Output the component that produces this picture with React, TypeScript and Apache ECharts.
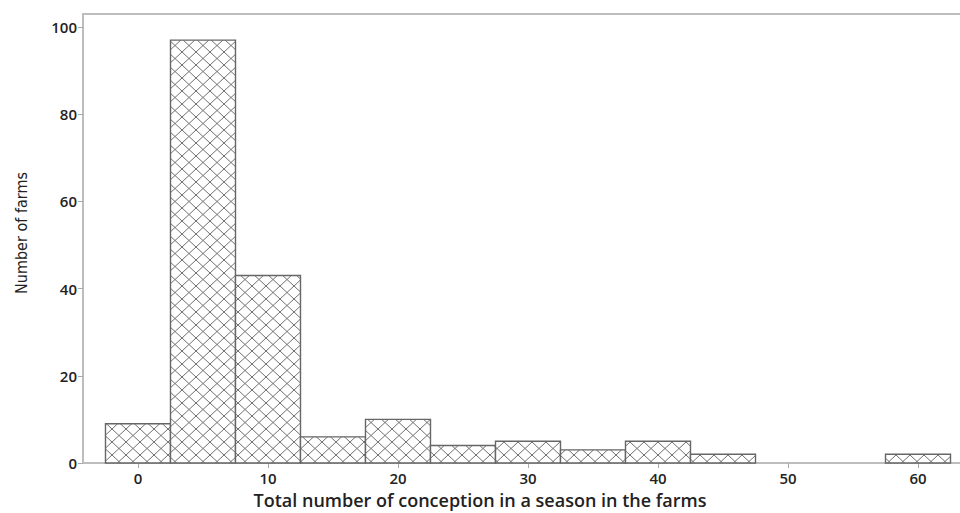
import React, { useEffect, useRef } from "react";
import * as echarts from "echarts";

const binCenters = [0, 5, 10, 15, 20, 25, 30, 35, 40, 45, 50, 55, 60];
const farmCounts = [9, 97, 43, 6, 10, 4, 5, 3, 5, 2, 0, 0, 2];
const binWidth = 5;
const xTicks = [0, 10, 20, 30, 40, 50, 60];
const yTicks = [0, 20, 40, 60, 80, 100];
const xTitle = "Total number of conception in a season in the farms";
const yTitle = "Number of farms";

const TW = 14;
const TH = 13;
const hatchSvg =
  `<svg xmlns="http://www.w3.org/2000/svg" width="${TW}" height="${TH}">` +
  `<rect width="${TW}" height="${TH}" fill="#ffffff"/>` +
  `<line x1="0" y1="0" x2="${TW}" y2="${TH}" stroke="#707070" stroke-width="1"/>` +
  `<line x1="${TW}" y1="0" x2="0" y2="${TH}" stroke="#707070" stroke-width="1"/>` +
  `</svg>`;
const hatchUrl = "data:image/svg+xml;charset=utf-8," + encodeURIComponent(hatchSvg);

export default function App() {
  const ref = useRef<HTMLDivElement>(null);
  useEffect(() => {
    document.body.style.margin = "0";
    if (!ref.current) return;
    const chart = echarts.init(ref.current, undefined, { renderer: "svg" });
    const pattern: any = {
      image: hatchUrl,
      repeat: "repeat",
      imageWidth: TW,
      imageHeight: TH,
    };
    const data = binCenters.map((c, i) => [c, farmCounts[i]]);
    const axisLineStyle = { color: "#bdbdbd", width: 2 };
    const labelStyle = {
      color: "#222",
      fontSize: 15,
      fontWeight: 600,
      fontFamily: "Open Sans",
    };
    chart.setOption({
      animation: false,
      backgroundColor: "#ffffff",
      grid: { left: 83, right: 0, top: 14, bottom: 50 },
      xAxis: [
        {
          type: "value",
          min: -4.23,
          max: 63.23,
          axisLine: { show: true, onZero: false, lineStyle: axisLineStyle },
          axisTick: {
            show: true,
            length: 5,
            customValues: xTicks,
            lineStyle: { color: "#aaa", width: 1 },
          },
          axisLabel: { customValues: xTicks, margin: 7, ...labelStyle },
          splitLine: { show: false },
        },
        {
          type: "value",
          position: "top",
          min: -4.23,
          max: 63.23,
          axisLine: { show: true, onZero: false, lineStyle: axisLineStyle },
          axisTick: { show: false },
          axisLabel: { show: false },
          splitLine: { show: false },
        },
      ],
      yAxis: {
        type: "value",
        min: 0,
        max: 103,
        axisLine: { show: true, onZero: false, lineStyle: axisLineStyle },
        axisTick: {
          show: true,
          length: 5,
          customValues: yTicks,
          lineStyle: { color: "#aaa", width: 1 },
        },
        axisLabel: { customValues: yTicks, margin: 6, ...labelStyle },
        splitLine: { show: false },
      },
      graphic: [
        {
          type: "text",
          x: 480,
          y: 500,
          style: {
            text: xTitle,
            fill: "#222",
            fontSize: 18,
            fontWeight: 600,
            fontFamily: "Open Sans",
            align: "center",
            verticalAlign: "middle",
          },
        },
        {
          type: "text",
          x: 21,
          y: 233,
          rotation: Math.PI / 2,
          style: {
            text: yTitle,
            fill: "#222",
            fontSize: 16,
            fontFamily: "Liberation Sans Narrow, DejaVu Sans Condensed, sans-serif",
            align: "center",
            verticalAlign: "middle",
          },
        },
      ],
      series: [
        {
          type: "custom",
          xAxisIndex: 0,
          yAxisIndex: 0,
          data,
          renderItem: (params: any, api: any) => {
            const c = api.value(0);
            const v = api.value(1);
            if (!v) return null;
            const p1 = api.coord([c - binWidth / 2, v]);
            const p2 = api.coord([c + binWidth / 2, 0]);
            return {
              type: "rect",
              shape: { x: p1[0], y: p1[1], width: p2[0] - p1[0], height: p2[1] - p1[1] },
              style: { fill: pattern, stroke: "#666666", lineWidth: 1.4 },
            };
          },
        },
      ],
    });
    return () => chart.dispose();
  }, []);
  return <div ref={ref} style={{ width: 960, height: 513 }} />;
}
